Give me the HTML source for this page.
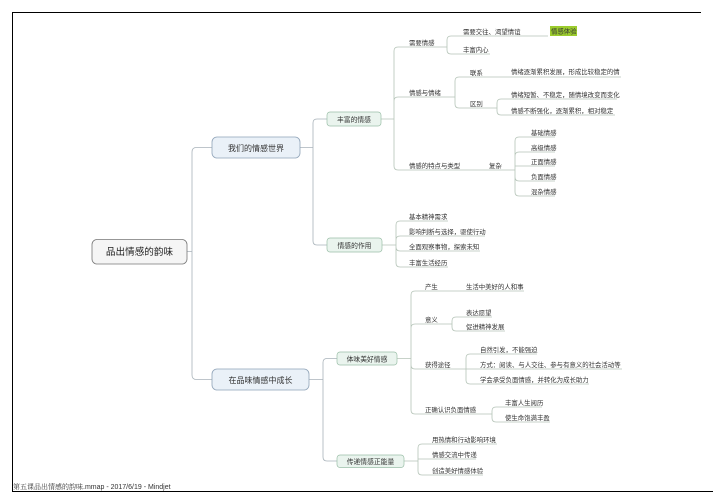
<!DOCTYPE html>
<html><head><meta charset="utf-8"><style>
html,body{margin:0;padding:0;background:#fff;width:713px;height:504px;overflow:hidden}
svg{display:block}
text{font-family:"Liberation Sans","Noto Sans CJK SC",sans-serif;fill:#333}
.s{font-size:6.4px}
.c{fill:none;stroke:#a9b3ba;stroke-width:0.8}
.g{fill:none;stroke:#b5c4b8;stroke-width:0.8}
.u{fill:none;stroke:#888;stroke-width:0.7}
</style></head><body>
<svg width="713" height="504" viewBox="0 0 713 504">
<!-- frame -->
<line x1="12" y1="12.5" x2="701" y2="12.5" stroke="#000" stroke-width="1"/>
<line x1="12.5" y1="12" x2="12.5" y2="491" stroke="#000" stroke-width="1"/>
<line x1="12" y1="491.5" x2="713" y2="491.5" stroke="#000" stroke-width="1"/>
<text x="13" y="489" style="font-size:7px"><tspan style='font-family:"Noto Serif CJK SC",serif'>第五课品出情感的韵味</tspan>.mmap - 2017/6/19 - Mindjet</text>

<!-- root connectors -->
<path class="c" d="M187,251.5 H192 M192,251.5 V152 Q192,147.5 196.5,147.5 H212 M192,251.5 V375 Q192,379.5 196.5,379.5 H212"/>
<path class="c" d="M300,147.5 H313 M313,147.5 V123 Q313,119 317,119 H327 M313,147.5 V241 Q313,245 317,245 H327"/>
<path class="c" d="M309,379.5 H323 M323,379.5 V362.5 Q323,358.5 327,358.5 H337 M323,379.5 V457 Q323,461 327,461 H337"/>

<!-- 丰富的情感 subtree -->
<path class="g" d="M381,119 H394 M394,119 V51 Q394,47 398,47 H435 M394,119 V101 Q394,97 398,97 H441 M394,119 V166 Q394,170 398,170 H460"/>
<path class="g" d="M435,47 H447 M447,47 V40 Q447,36 451,36 H548 M447,47 V50 Q447,54 451,54 H490"/>
<path class="g" d="M441,97 H455 M455,97 V81 Q455,77 459,77 H621 M455,97 V104 Q455,108 459,108 H486"/>
<path class="g" d="M486,108 H497 M497,108 V103 Q497,99 501,99 H617 M497,108 V111 Q497,115 501,115 H615"/>
<path class="g" d="M460,170 H503 M503,170 H515 M515,170 V141 Q515,137 519,137 H555 M515,170 V156 Q515,152 519,152 H555 M515,166 H555 M515,170 V177 Q515,181 519,181 H555 M515,170 V192 Q515,196 519,196 H555"/>
<!-- 情感的作用 -->
<path class="g" d="M382,245 H396 M396,245 V225 Q396,221 400,221 H448 M396,245 V240 Q396,236 400,236 H485 M396,245 V247 Q396,251 400,251 H480 M396,245 V263 Q396,267 400,267 H448"/>
<!-- 体味美好情感 -->
<path class="g" d="M397,358.5 H411 M411,358.5 V295 Q411,291 415,291 H524 M411,358.5 V328 Q411,324 415,324 H438 M411,358.5 V365 Q411,369 415,369 H451 M411,358.5 V410 Q411,414 415,414 H475"/>
<path class="g" d="M438,324 H452 M452,324 V321 Q452,317 456,317 H492 M452,324 V327 Q452,331 456,331 H505"/>
<path class="g" d="M451,369 H466 M466,369 V358 Q466,354 470,354 H537 M466,369 H622 M466,369 V380 Q466,384 470,384 H589"/>
<path class="g" d="M475,414 H492 M492,414 V411 Q492,407 496,407 H542 M492,414 V418 Q492,422 496,422 H550"/>
<!-- 传递 -->
<path class="g" d="M404,461 H418 M418,461 V448 Q418,444 422,444 H497 M418,461 V459 H476 M418,461 V471 Q418,475 422,475 H483"/>

<!-- boxes -->
<rect x="92" y="239.5" width="95" height="24.5" rx="5" fill="#f5f5f5" stroke="#777" stroke-width="0.8"/>
<text x="139.5" y="255" text-anchor="middle" style="font-size:9.6px;fill:#222">品出情感的韵味</text>
<rect x="212" y="137" width="88" height="21" rx="5" fill="#eaf1f8" stroke="#8fa3b8" stroke-width="0.8"/>
<text x="256" y="151" text-anchor="middle" style="font-size:8px">我们的情感世界</text>
<rect x="212" y="369" width="97" height="21" rx="5" fill="#eaf1f8" stroke="#8fa3b8" stroke-width="0.8"/>
<text x="260.5" y="383" text-anchor="middle" style="font-size:8px">在品味情感中成长</text>
<rect x="327" y="112" width="54" height="14" rx="3" fill="#eaf4ee" stroke="#9bbfa8" stroke-width="0.7"/>
<text x="354" y="122" text-anchor="middle" style="font-size:6.8px">丰富的情感</text>
<rect x="327" y="238" width="55" height="14" rx="3" fill="#eaf4ee" stroke="#9bbfa8" stroke-width="0.7"/>
<text x="354.5" y="248" text-anchor="middle" style="font-size:6.8px">情感的作用</text>
<rect x="337" y="352" width="60" height="13" rx="3" fill="#eaf4ee" stroke="#9bbfa8" stroke-width="0.7"/>
<text x="367" y="361.5" text-anchor="middle" style="font-size:6.8px">体味美好情感</text>
<rect x="337" y="455" width="67" height="12.5" rx="3" fill="#eaf4ee" stroke="#9bbfa8" stroke-width="0.7"/>
<text x="370.5" y="464" text-anchor="middle" style="font-size:6.8px">传递情感正能量</text>

<rect x="550" y="26" width="27" height="10" fill="#9ccc2e"/>
<text class="s" x="551" y="33.5">情感体验</text>

<!-- labels -->
<g class="s">
<text class="s" x="409" y="45">需要情感</text>
<text class="s" x="409" y="95">情感与情绪</text>
<text class="s" x="409" y="168">情感的特点与类型</text>
<text class="s" x="463" y="34">需要交往、渴望情谊</text>
<text class="s" x="463" y="52">丰富内心</text>
<text class="s" x="470" y="75">联系</text>
<text class="s" x="470" y="106">区别</text>
<text class="s" x="511" y="74">情绪逐渐累积发展，形成比较稳定的情</text>
<text class="s" x="511" y="97">情绪短暂、不稳定，随情境改变而变化</text>
<text class="s" x="511" y="113">情感不断强化，逐渐累积，相对稳定</text>
<text class="s" x="489" y="168">复杂</text>
<text class="s" x="531" y="135">基础情感</text>
<text class="s" x="531" y="150">高级情感</text>
<text class="s" x="531" y="164">正面情感</text>
<text class="s" x="531" y="179">负面情感</text>
<text class="s" x="531" y="194">混杂情感</text>
<text class="s" x="409" y="219">基本精神需求</text>
<text class="s" x="409" y="234">影响判断与选择，驱使行动</text>
<text class="s" x="409" y="249">全面观察事物，探索未知</text>
<text class="s" x="409" y="265">丰富生活经历</text>
<text class="s" x="425" y="289">产生</text>
<text class="s" x="466" y="289">生活中美好的人和事</text>
<text class="s" x="425" y="322">意义</text>
<text class="s" x="466" y="315">表达愿望</text>
<text class="s" x="466" y="329">促进精神发展</text>
<text class="s" x="425" y="367">获得途径</text>
<text class="s" x="480" y="352">自然引发，不能强迫</text>
<text class="s" x="480" y="367">方式：阅读、与人交往、参与有意义的社会活动等</text>
<text class="s" x="480" y="382">学会承受负面情感，并转化为成长助力</text>
<text class="s" x="425" y="412">正确认识负面情感</text>
<text class="s" x="505" y="405">丰富人生阅历</text>
<text class="s" x="505" y="420">使生命饱满丰盈</text>
<text class="s" x="432" y="442">用热情和行动影响环境</text>
<text class="s" x="432" y="457">情感交流中传递</text>
<text class="s" x="432" y="473">创造美好情感体验</text>
</g>
</svg>
</body></html>
